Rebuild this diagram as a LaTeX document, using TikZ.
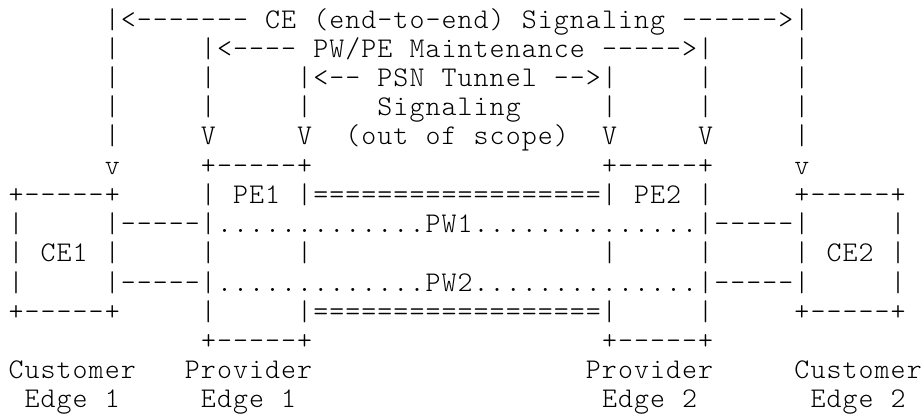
\documentclass[tikz,border=0pt]{standalone}
\usepackage{fontspec}
\setmonofont{Latin Modern Mono Light}
\newlength\cw
\setlength\cw{16.04pt}
\makeatletter
\def\spmark{*}
\newcommand\cells[1]{\@tfor\cc:=#1\do{\makebox[\cw][c]{\ifx\cc\spmark\else\cc\fi}}}
\makeatother
\begin{document}
\begin{tikzpicture}[x=1pt,y=1pt,
  asciirow/.style={anchor=base west, inner sep=0pt, outer sep=0pt,
    font=\ttfamily\fontsize{28.5}{29.2}\selectfont, text=black}]
\fill[white] (0,0) rectangle (921,-416);
\useasboundingbox (0,0) rectangle (921,-416);
\def\rowy#1{-28-(#1-1)*29.23}
\node[asciirow] (r1) at (8,{\rowy{1}}) {\cells{******|<-------*CE*(end-to-end)*Signaling*------>|}};
\node[asciirow] (r2) at (8,{\rowy{2}}) {\cells{******|*****|<----*PW/PE*Maintenance*----->|*****|}};
\node[asciirow] (r3) at (8,{\rowy{3}}) {\cells{******|*****|*****|<--*PSN*Tunnel*-->|*****|*****|}};
\node[asciirow] (r4) at (8,{\rowy{4}}) {\cells{******|*****|*****|****Signaling*****|*****|*****|}};
\node[asciirow] (r5) at (8,{\rowy{5}}) {\cells{******|*****V*****V**(out*of*scope)**V*****V*****|}};
\node[asciirow] (r6) at (8,{\rowy{6}}) {\cells{******v*****+-----+******************+-----+*****v}};
\node[asciirow] (r7) at (8,{\rowy{7}}) {\cells{+-----+*****|*PE1*|==================|*PE2*|*****+-----+}};
\node[asciirow] (r8) at (8,{\rowy{8}}) {\cells{|*****|-----|.............PW1..............|-----|*****|}};
\node[asciirow] (r9) at (8,{\rowy{9}}) {\cells{|*CE1*|*****|*****|******************|*****|*****|*CE2*|}};
\node[asciirow] (r10) at (8,{\rowy{10}}) {\cells{|*****|-----|.............PW2..............|-----|*****|}};
\node[asciirow] (r11) at (8,{\rowy{11}}) {\cells{+-----+*****|*****|==================|*****|*****+-----+}};
\node[asciirow] (r12) at (8,{\rowy{12}}) {\cells{************+-----+******************+-----+}};
\node[asciirow] (r13) at (8,{\rowy{13}}) {\cells{Customer***Provider*****************Provider*****Customer}};
\node[asciirow] (r14) at (8,{\rowy{14}}) {\cells{*Edge*1*****Edge*1*******************Edge*2*******Edge*2}};
\end{tikzpicture}
\end{document}
